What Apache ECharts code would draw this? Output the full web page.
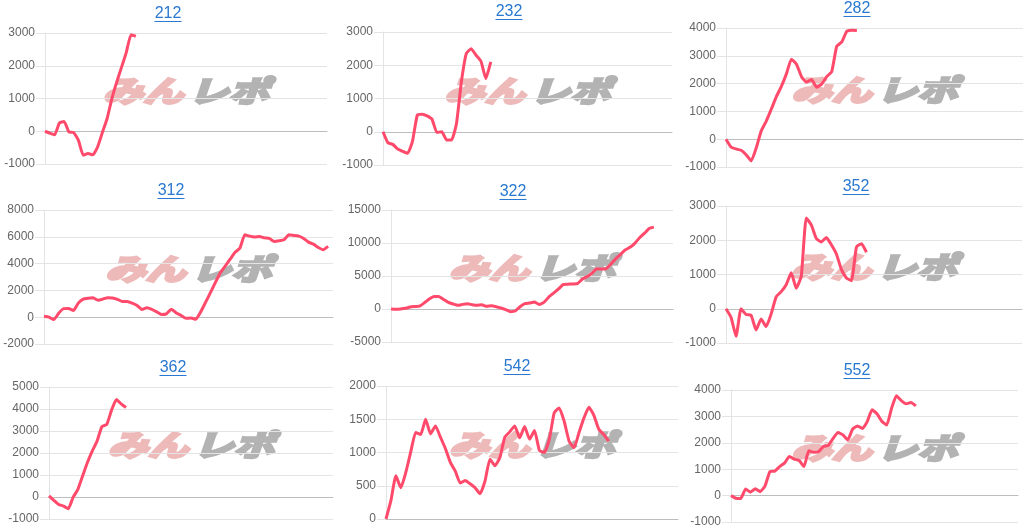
<!DOCTYPE html>
<html>
<head>
<meta charset="utf-8">
<script src="https://cdn.jsdelivr.net/npm/echarts@6/dist/echarts.min.js"></script>
<style>
  html, body { margin: 0; padding: 0; background: #fff; }
  #chart { width: 1031px; height: 532px; }
</style>
</head>
<body>
<div id="chart"></div>
<script>
  // machine numbers shown above each small chart
  var titles = ["212", "232", "282", "312", "322", "352", "362", "542", "552"];

  // shared x slots (game progress), data only fills the first part
  var categories = [];
  for (var i = 1; i <= 60; i++) categories.push(String(i));

  // y axis ticks per chart
  var yMin = [-1000, -1000, -1000, -2000, -5000, -1000, -1000, 0, -1000];
  var yMax = [3000, 3000, 4000, 8000, 15000, 3000, 5000, 2000, 4000];
  var yStep = [1000, 1000, 1000, 2000, 5000, 1000, 1000, 500, 1000];

  // difference curves
  var v212 = [0, -60, -110, 250, 300, -20, -40, -280, -730, -680, -720, -480, -40, 390, 1000,
    1500, 1950, 2400, 2950, 2900];
  var v232 = [0, -330, -380, -520, -590, -650, -300, 500, 530, 480, 380, -20, 0, -250, -250,
    250, 1500, 2350, 2500, 2300, 2120, 1600, 2100];
  var v282 = [0, -280, -350, -400, -560, -780, -320, 300, 650, 1080, 1530, 1900, 2350, 2880, 2700,
    2250, 2050, 2150, 1870, 1980, 2250, 2430, 3340, 3500, 3880, 3920, 3910];
  var v312 = [70, 0, -180, 300, 640, 650, 500, 1050, 1350, 1420, 1450, 1260, 1350, 1460, 1440,
    1330, 1180, 1180, 1050, 880, 570, 700, 580, 400, 200, 250, 600, 320, 130, -80,
    -60, -150, 400, 1120, 1850, 2600, 3320, 3820, 4330, 4840, 5160, 6150, 6050, 5990, 6030,
    5920, 5880, 5650, 5700, 5780, 6150, 6100, 6050, 5880, 5600, 5450, 5200, 5030, 5280];
  var v322 = [0, -50, 0, 100, 300, 380, 450, 950, 1500, 1900, 1900, 1450, 1000, 750, 550,
    700, 800, 650, 550, 650, 400, 500, 350, 150, -100, -400, -300, 350, 800, 900,
    1050, 700, 1000, 1800, 2400, 3000, 3700, 3750, 3800, 3850, 4500, 4900, 5400, 6050, 6050,
    6100, 6800, 7600, 8250, 8950, 9350, 9950, 10800, 11450, 12200, 12400];
  var v352 = [0, -250, -800, 0, -170, -190, -620, -300, -520, -150, 350, 500, 700, 1050, 600,
    950, 2650, 2450, 2050, 1950, 2080, 1870, 1600, 1150, 900, 820, 1800, 1900, 1650];
  var v362 = [50, -150, -340, -410, -530, -20, 350, 970, 1580, 2100, 2550, 3200, 3300, 3950, 4430,
    4230, 4070];
  var v542 = [0, 280, 650, 470, 700, 1010, 1300, 1270, 1500, 1280, 1400, 1230, 1060, 850, 720,
    540, 580, 530, 470, 380, 570, 900, 800, 920, 1230, 1310, 1400, 1220, 1390, 1200,
    1330, 1030, 1000, 1200, 1600, 1670, 1470, 1170, 1070, 1300, 1520, 1680, 1560, 1350, 1270,
    1170];
  var v552 = [0, -100, -110, 250, 130, 260, 150, 370, 910, 930, 1100, 1230, 1480, 1380, 1330,
    1100, 1700, 1640, 1660, 1860, 1900, 2170, 2390, 2300, 2110, 2520, 2640, 2540, 2800, 3250,
    3100, 2820, 2670, 3300, 3780, 3600, 3480, 3530, 3400];

  var seriesData = [v212, v232, v282, v312, v322, v352, v362, v542, v552];

  // plot boxes in px: left, top, width, height; title centre x, y
  var layout = [
    { l: 45, t: 33, w: 282, h: 131, tx: 168, ty: 14 },
    { l: 383, t: 32, w: 289, h: 133, tx: 509, ty: 12 },
    { l: 726, t: 28, w: 297, h: 139, tx: 857, ty: 9 },
    { l: 44, t: 210, w: 289, h: 134, tx: 171, ty: 191 },
    { l: 391, t: 210, w: 282, h: 132, tx: 513, ty: 192 },
    { l: 726, t: 206, w: 296, h: 137, tx: 856, ty: 187 },
    { l: 49, t: 387, w: 284, h: 132, tx: 173, ty: 368 },
    { l: 386, t: 386, w: 292, h: 133, tx: 517, ty: 367 },
    { l: 731, t: 390, w: 287, h: 132, tx: 857, ty: 371 }
  ];

  var lineColor = "#ff4a6b";
  var gridColor = "#e4e4e4";

  var grids = [], xAxes = [], yAxes = [], series = [], graphics = [];

  layout.forEach(function (p, k) {
    grids.push({ left: p.l, top: p.t, width: p.w, height: p.h, containLabel: false });
    xAxes.push({
      gridIndex: k,
      type: "category",
      data: categories,
      boundaryGap: false,
      axisTick: { show: false },
      axisLabel: { show: false },
      splitLine: { show: false },
      axisLine: { show: true, onZero: true, lineStyle: { color: "#bdbdbd", width: 1 } }
    });
    yAxes.push({
      gridIndex: k,
      type: "value",
      min: yMin[k],
      max: yMax[k],
      interval: yStep[k],
      axisLine: { show: true, lineStyle: { color: gridColor } },
      axisTick: { show: true, length: 9, lineStyle: { color: gridColor } },
      axisLabel: {
        color: "#666",
        fontSize: 12,
        margin: 10,
        fontFamily: "Liberation Sans, Arial, sans-serif",
        formatter: function (v) { return String(v); }
      },
      splitLine: { show: true, lineStyle: { color: gridColor } }
    });
    series.push({
      type: "line",
      xAxisIndex: k,
      yAxisIndex: k,
      data: seriesData[k],
      showSymbol: false,
      smooth: 0.15,
      z: 5,
      lineStyle: { color: lineColor, width: 3, join: "round" },
      itemStyle: { color: lineColor }
    });

    // title link
    graphics.push({
      type: "text",
      x: p.tx,
      y: p.ty,
      style: {
        text: titles[k],
        align: "center",
        verticalAlign: "middle",
        fill: "#2a78d0",
        font: "16px 'Liberation Sans', Arial, sans-serif"
      }
    });
    graphics.push({
      type: "line",
      shape: { x1: p.tx - 13.5, y1: p.ty + 7.5, x2: p.tx + 13.5, y2: p.ty + 7.5 },
      style: { stroke: "#2a78d0", lineWidth: 1 }
    });

    // site watermark in the middle of the plot
    var cx = p.l + p.w / 2;
    var cy = p.t + p.h / 2 - 8;
    graphics.push({
      type: "group",
      x: cx,
      y: cy,
      scaleX: 1.3,
      scaleY: 0.95,
      z: 1,
      children: [
        {
          type: "text",
          x: -2,
          y: 0,
          style: {
            text: "みん",
            align: "right",
            verticalAlign: "middle",
            fill: "#edb9b9",
            stroke: "#edb9b9",
            lineWidth: 3,
            font: "italic bold 31px 'Noto Sans CJK JP', sans-serif"
          }
        },
        {
          type: "text",
          x: 2,
          y: 0,
          style: {
            text: "レポ",
            align: "left",
            verticalAlign: "middle",
            fill: "#b3b3b3",
            stroke: "#b3b3b3",
            lineWidth: 3,
            font: "italic bold 31px 'Noto Sans CJK JP', sans-serif"
          }
        }
      ]
    });
  });

  var chart = echarts.init(document.getElementById("chart"), null, { renderer: "canvas" });
  chart.setOption({
    backgroundColor: "#fff",
    animation: false,
    grid: grids,
    xAxis: xAxes,
    yAxis: yAxes,
    series: series,
    graphic: graphics
  });
</script>
</body>
</html>
